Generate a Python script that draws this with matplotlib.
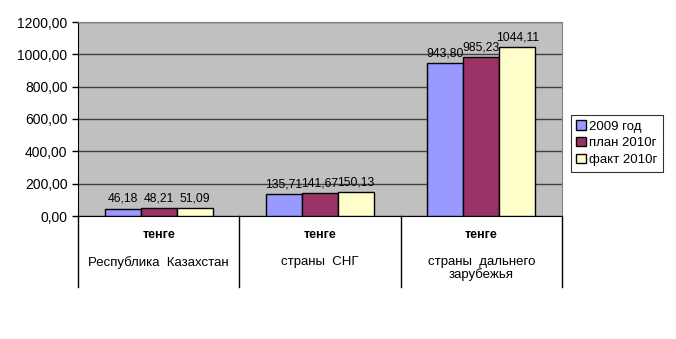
import matplotlib.pyplot as plt
import numpy as np

plt.rcParams['font.family'] = ['Liberation Sans', 'DejaVu Sans']

categories = ['Республика  Казахстан', 'страны  СНГ', 'страны  дальнего\nзарубежья']
unit_row = ['тенге', 'тенге', 'тенге']
series = ['2009 год', 'план 2010г', 'факт 2010г']
v2009 = [46.18, 135.71, 943.80]
plan2010 = [48.21, 141.67, 985.23]
fact2010 = [51.09, 150.13, 1044.11]
colors = ['#9999FF', '#993366', '#FFFFCC']
yticks = [0, 200, 400, 600, 800, 1000, 1200]

fig = plt.figure(figsize=(6.76, 3.39), dpi=100)
ax = fig.add_axes([78/676, 1-216/339, 484/676, 194/339])
ax.set_facecolor('#C0C0C0')

x = np.arange(len(categories))
w = 0.223
for i, (vals, lab, c) in enumerate(zip([v2009, plan2010, fact2010], series, colors)):
    pos = x + (i - 1) * w
    ax.bar(pos, vals, w, color=c, edgecolor='black', linewidth=1, label=lab, zorder=3)
    for p, v in zip(pos, vals):
        ax.text(p, v + 22, f'{v:.2f}'.replace('.', ','), ha='center', va='bottom',
                fontsize=8.8, zorder=4)

ax.set_xlim(-0.5, len(categories) - 0.5)
ax.set_ylim(0, 1200)
ax.set_yticks(yticks)
ax.set_yticklabels([f'{t},00' for t in yticks], fontsize=10)
ax.yaxis.grid(True, color='#404040', linewidth=1, zorder=1)
ax.set_xticks([])
ax.tick_params(axis='y', length=4, width=1)
for s in ['top', 'right']:
    ax.spines[s].set_color('#808080')
ax.spines['left'].set_color('black')
ax.spines['bottom'].set_color('black')

# category table below the axis
for k in range(len(categories) + 1):
    ax.plot([k - 0.5, k - 0.5], [0, -440], color='black', linewidth=1, clip_on=False)
for k, (u, c) in enumerate(zip(unit_row, categories)):
    ax.text(k, -118, u, ha='center', va='center', fontsize=9, fontweight='bold')
    ax.text(k, -245, c, ha='center', va='top', fontsize=9.5, linespacing=1.05)

leg = ax.legend(loc='upper left', bbox_to_anchor=(571/484 - 78/484, (216-115)/194),
                fontsize=9.5, frameon=True, fancybox=False, handlelength=0.7,
                handleheight=0.7, handletextpad=0.3, borderpad=0.4, labelspacing=0.35,
                borderaxespad=0)
leg.get_frame().set_edgecolor('black')
leg.get_frame().set_linewidth(0.8)

fig.savefig('out.png', dpi=100)
